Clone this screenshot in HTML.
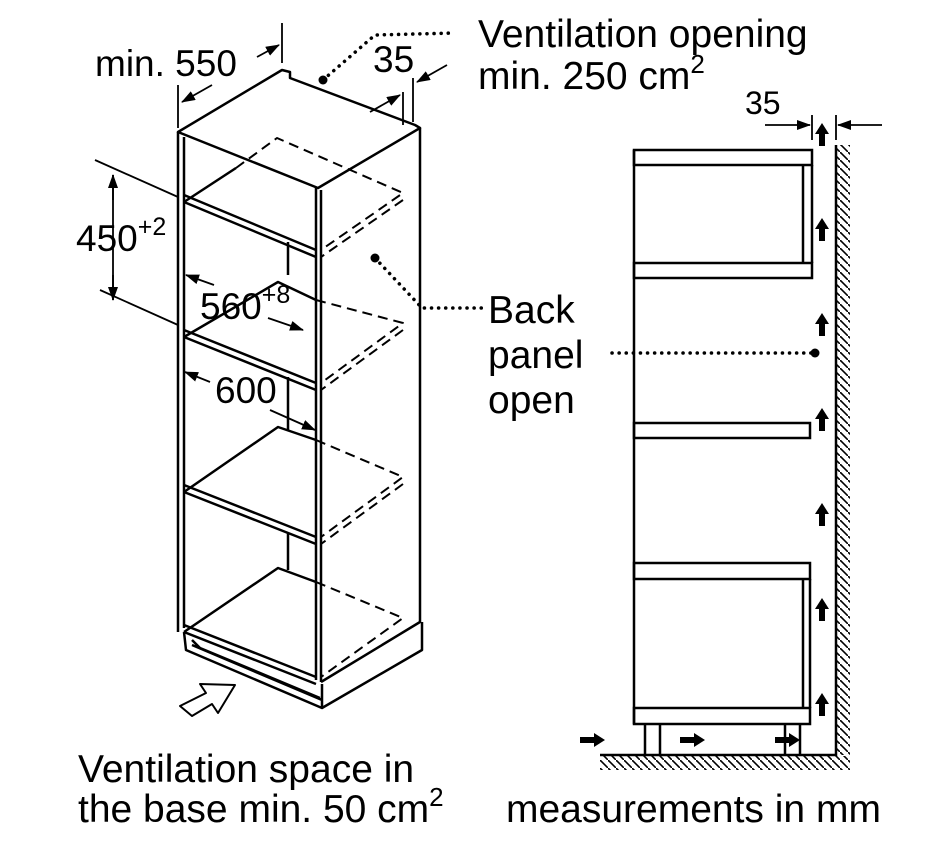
<!DOCTYPE html>
<html><head><style>
body{margin:0;background:#fff;}
svg{display:block;font-family:"Liberation Sans",sans-serif;}
</style></head><body>
<svg width="946" height="847" viewBox="0 0 946 847" xmlns="http://www.w3.org/2000/svg">
<defs>
<marker id="a" markerWidth="14" markerHeight="10" refX="13" refY="5" orient="auto" markerUnits="userSpaceOnUse"><path d="M0,0 L14,5 L0,10z" fill="#000"/></marker>
<pattern id="hv" width="8" height="8" patternUnits="userSpaceOnUse"><path d="M0,0 L8,8" stroke="#000" stroke-width="1.6"/></pattern>
</defs>
<rect width="946" height="847" fill="#fff"/>
<g stroke="#000" stroke-width="2.5" fill="none" stroke-linejoin="round">
<path d="M178,132 L282,70 L290,72 L290,78 L415,125 L420,128 L318,188 Z"/>
<path d="M178,132 L178,632 M184,137 L184,628"/>
<path d="M316,187 L316,680 M321,190 L321,682"/>
<path d="M420,128 L420,622 L321,682"/>
<path d="M184,195 L316,250 M184,202 L316,257"/>
<path d="M184,202 L236,168"/>
<path d="M184,330 L316,383 M184,337 L316,390"/>
<path d="M184,337 L278,282 L316,300"/>
<path d="M184,485 L316,537 M184,492 L316,544"/>
<path d="M184,492 L278,427 L316,440"/>
<path d="M184,625 L316,677 M184,632 L316,684"/>
<path d="M184,632 L278,568 L316,582"/>
<path d="M288,242 L288,275 M288,377 L288,430 M288,533 L288,570"/>
<g stroke-dasharray="10,6" stroke-width="2">
<path d="M236,168 L277,138 L403,193 L321,250 M403,200 L321,257"/>
<path d="M316,300 L403,323 L321,383 M403,330 L321,390"/>
<path d="M316,440 L403,477 L321,537 M403,484 L321,544"/>
<path d="M316,582 L403,618 L321,677"/>
</g>
<path d="M184,632 L186,650 L322,708 L422,650 L422,622 M192,645 L322,700 L322,708 M192,640 L200,648 L320,698 M322,684 L322,708"/>
<path d="M180,706 L192,716 L212,704 L218,713 L235,685 L200,684 L206,693 Z" stroke-width="2"/>
<g stroke-width="1.8">
<path d="M282,23 L282,63 M178,85 L178,128"/>
<path d="M212,85 L182,102" marker-end="url(#a)"/>
<path d="M257,57 L279,45" marker-end="url(#a)"/>
<path d="M403,92 L403,125 M413,78 L413,122"/>
<path d="M370,112 L400,95" marker-end="url(#a)"/>
<path d="M447,65 L417,82" marker-end="url(#a)"/>
<path d="M113,175 L113,300"/>
<path d="M113,200 L113,175" marker-end="url(#a)"/>
<path d="M113,275 L113,300" marker-end="url(#a)"/>
<path d="M95,160 L178,197 M100,290 L178,325"/>
<path d="M214,285 L186,275" marker-end="url(#a)"/>
<path d="M268,318 L303,330" marker-end="url(#a)"/>
<path d="M210,382 L185,372" marker-end="url(#a)"/>
<path d="M270,410 L315,430" marker-end="url(#a)"/>
</g>
<g stroke-dasharray="0.1,7" stroke-width="3.5" stroke-linecap="round">
<path d="M323,80 L375,35 L455,33"/>
<path d="M375,258 L422,308 L482,308"/>
<path d="M612,353 L815,353"/>
</g>
</g>
<circle cx="323" cy="80" r="4.5"/><circle cx="375" cy="258" r="4.5"/><circle cx="815" cy="353" r="4.5"/>
<g stroke="#000" stroke-width="2.5" fill="none">
<path d="M634,150 L634,724"/>
<rect x="634" y="150" width="178" height="15"/>
<path d="M803,165 L803,263 M812,165 L812,263"/>
<rect x="634" y="263" width="178" height="15"/>
<rect x="634" y="423" width="176" height="15"/>
<rect x="634" y="563" width="176" height="16"/>
<path d="M803,579 L803,708 M810,579 L810,708"/>
<rect x="634" y="708" width="176" height="16"/>
<path d="M645,724 L645,755 M660,724 L660,755 M785,724 L785,755 M800,724 L800,755"/>
<path d="M600,755 L836,755 L836,145"/>
<path d="M812,115 L812,140 M836,115 L836,140" stroke-width="1.8"/>
<path d="M765,125 L810,125" stroke-width="1.8" marker-end="url(#a)"/>
<path d="M882,125 L838,125" stroke-width="1.8" marker-end="url(#a)"/>
</g>
<rect x="837" y="145" width="13" height="610" fill="url(#hv)"/>
<rect x="600" y="756" width="250" height="14" fill="url(#hv)"/>
<g fill="#000">
<g id="up"><path d="M819,146 h6 v-12 h4 l-7,-11 l-7,11 h4z"/></g>
<use href="#up" y="95"/><use href="#up" y="190"/><use href="#up" y="285"/><use href="#up" y="380"/><use href="#up" y="475"/><use href="#up" y="570"/>
<g id="rt"><path d="M580,737 h14 v-4 l11,7 l-11,7 v-4 h-14z"/></g>
<use href="#rt" x="100"/><use href="#rt" x="195"/>
</g>
<g font-size="39" fill="#000">
<text x="478" y="47">Ventilation opening</text>
<text x="478" y="89">min. 250 cm<tspan font-size="26" dy="-16">2</tspan></text>
<text x="95" y="76" font-size="37">min. 550</text>
<text x="373" y="72" font-size="37">35</text>
<text x="745" y="114" font-size="32">35</text>
<text x="76" y="251" font-size="37">450<tspan font-size="25" dy="-16">+2</tspan></text>
<text x="200" y="319" font-size="37">560<tspan font-size="25" dy="-16">+8</tspan></text>
<text x="215" y="403" font-size="37">600</text>
<text x="488" y="323">Back</text>
<text x="488" y="368">panel</text>
<text x="488" y="413">open</text>
<text x="78" y="782">Ventilation space in</text>
<text x="78" y="822">the base min. 50 cm<tspan font-size="26" dy="-16">2</tspan></text>
<text x="506" y="822">measurements in mm</text>
</g>
</svg>
</body></html>
